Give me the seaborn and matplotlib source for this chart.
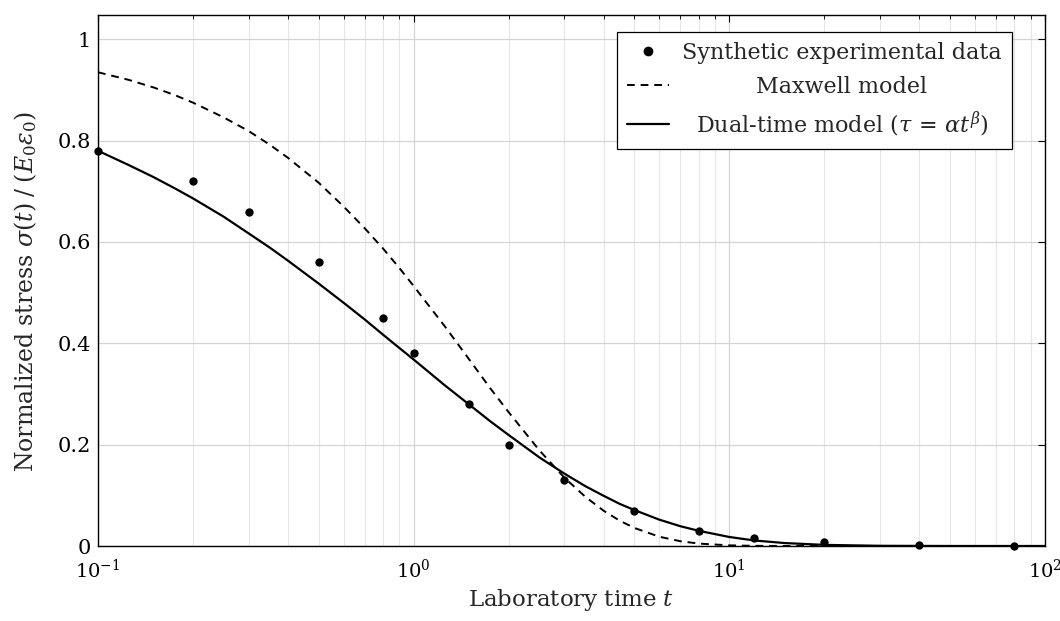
import numpy as np
import pandas as pd
import matplotlib
matplotlib.use("Agg")
import matplotlib.pyplot as plt
import seaborn as sns
from matplotlib.ticker import LogLocator, NullFormatter, MultipleLocator, FuncFormatter
from matplotlib.lines import Line2D

# ---- data ----
data_t = [0.1, 0.2, 0.3, 0.5, 0.8, 1.0, 1.5, 2.0, 3.0, 5.0, 8.0, 12.0, 20.0, 40.0, 80.0]
data_sigma = [0.78, 0.72, 0.66, 0.56, 0.45, 0.38, 0.28, 0.20, 0.13, 0.07, 0.03, 0.015, 0.007, 0.002, 0.0005]

curve_t = [0.1, 0.125, 0.15, 0.175, 0.2, 0.25, 0.3, 0.35, 0.4, 0.5, 0.6, 0.7, 0.8, 0.9, 1.0,
           1.25, 1.5, 1.75, 2.0, 2.5, 3.0, 3.5, 4.0, 4.5, 5.0, 6.0, 7.0, 8.0, 10.0,
           12.0, 15.0, 20.0, 30.0, 50.0, 100.0]
maxwell_sigma = [0.935, 0.920, 0.905, 0.890, 0.875, 0.846, 0.819, 0.792, 0.766, 0.717,
                 0.670, 0.627, 0.587, 0.549, 0.513, 0.435, 0.368, 0.311, 0.264, 0.189,
                 0.135, 0.097, 0.0695, 0.0498, 0.0357, 0.0183, 0.0094, 0.0048, 0.0013,
                 0.0003, 0.00005, 0.0, 0.0, 0.0, 0.0]
dual_sigma = [0.780, 0.752, 0.728, 0.706, 0.686, 0.650, 0.617, 0.589, 0.563, 0.518,
              0.480, 0.447, 0.417, 0.391, 0.368, 0.318, 0.279, 0.246, 0.219, 0.175,
              0.143, 0.118, 0.099, 0.083, 0.071, 0.052, 0.039, 0.030, 0.0178,
              0.0109, 0.0058, 0.0022, 0.0004, 0.00002, 0.0]

legend_labels = ["Synthetic experimental data", "Maxwell model",
                 r"Dual-time model ($\tau\, =\, \alpha t^{\beta}$)"]

# ---- style ----
sns.set_theme(style="whitegrid")
plt.rcParams["font.family"] = ["DejaVu Serif"]
plt.rcParams["mathtext.fontset"] = "dejavuserif"
plt.rcParams["font.size"] = 15

fig = plt.figure(figsize=(10.6, 6.21), dpi=100)
ax = fig.add_axes([98 / 1060, 75 / 621, 947 / 1060, 531 / 621])
ax.set_facecolor("white")

df_data = pd.DataFrame({"t": data_t, "sigma": data_sigma})
df_curves = pd.DataFrame({"t": curve_t, "maxwell": maxwell_sigma, "dual": dual_sigma})

sns.lineplot(data=df_curves, x="t", y="maxwell", ax=ax, color="black", lw=1.4,
             linestyle=(0, (4, 3)), estimator=None, sort=True, zorder=3)
sns.lineplot(data=df_curves, x="t", y="dual", ax=ax, color="black", lw=1.6,
             estimator=None, sort=True, zorder=3)
sns.scatterplot(data=df_data, x="t", y="sigma", ax=ax, color="black", s=36,
                edgecolor="black", linewidth=0, zorder=4, clip_on=False)

ax.set_xscale("log")
ax.set_xlim(0.1, 100)
ax.set_ylim(0, 1.048)

ax.xaxis.set_major_locator(LogLocator(base=10, numticks=10))
ax.xaxis.set_minor_locator(LogLocator(base=10, subs=np.arange(2, 10), numticks=100))
ax.xaxis.set_minor_formatter(NullFormatter())
ax.yaxis.set_major_locator(MultipleLocator(0.2))
ax.yaxis.set_major_formatter(FuncFormatter(lambda v, p: "0" if abs(v) < 1e-9 else ("1" if abs(v - 1) < 1e-9 else f"{v:.1f}")))

ax.grid(True, which="major", color="#d4d4d4", lw=0.9)
ax.grid(True, which="minor", axis="x", color="#e6e6e6", lw=0.8)
ax.set_axisbelow(True)

for s in ax.spines.values():
    s.set_color("black")
    s.set_linewidth(1.0)

ax.tick_params(which="both", direction="in", top=True, right=True, colors="black",
               labelsize=15, labelcolor="black")
ax.tick_params(axis="x", labelsize=14)
ax.tick_params(which="major", length=5, width=0.8)
ax.tick_params(which="minor", length=3, width=0.6)
ax.tick_params(axis="x", pad=9)
ax.tick_params(axis="y", pad=5)

ax.set_xlabel(r"Laboratory time $t$", fontsize=16.5, labelpad=4)
ax.set_ylabel(r"Normalized stress $\sigma(t)\;/\;(E_0\varepsilon_0)$", fontsize=17, labelpad=9)
ax.yaxis.set_label_coords(-0.062, 0.48)

handles = [
    Line2D([], [], marker="o", color="black", linestyle="none", markersize=6),
    Line2D([], [], color="black", lw=1.4, linestyle=(0, (4, 3))),
    Line2D([], [], color="black", lw=1.6),
]
leg = ax.legend(handles, legend_labels, loc="upper right",
                bbox_to_anchor=(0.965, 0.968), borderaxespad=0, fontsize=16,
                frameon=True, fancybox=False, edgecolor="black", framealpha=1,
                handlelength=1.9, handletextpad=0.6, borderpad=0.45, labelspacing=0.52)
leg.get_frame().set_linewidth(0.9)

# centre the legend texts within their column (like pgfplots)
fig.canvas.draw()
renderer = fig.canvas.get_renderer()
texts = leg.get_texts()
widths = [t.get_window_extent(renderer).width for t in texts]
maxw = max(widths)
rows = leg._legend_handle_box.get_children()[0].get_children()
for row, w in zip(rows, widths):
    row.sep = row.sep + (maxw - w) / 2 * 72.0 / fig.dpi

fig.savefig("out.png", dpi=100)
